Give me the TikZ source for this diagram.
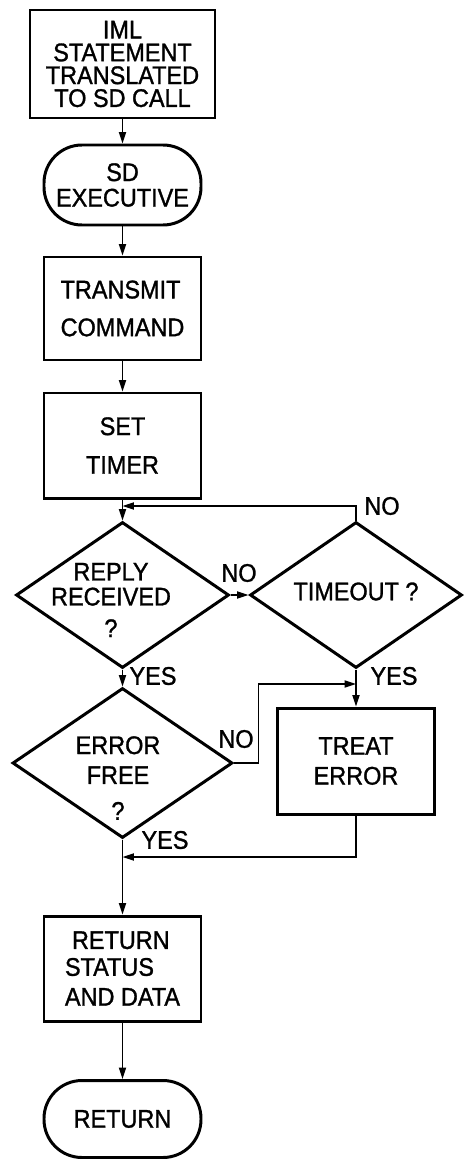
\documentclass[tikz,border=0pt]{standalone}
\usepackage{fontspec}
\setmainfont{Liberation Sans}[FakeStretch=0.92, FakeBold=1.2]
\usetikzlibrary{shapes.geometric,arrows.meta}

\begin{document}
\begin{tikzpicture}[
    every node/.style={font=\fontsize{14.5}{13}\selectfont},
    box/.style={draw, line width=1.7pt, minimum width=3.14cm, align=center},
    terminal/.style={draw, line width=1.7pt, rounded corners=0.76cm, minimum width=3.14cm, minimum height=1.54cm, align=center},
    decision/.style={draw, diamond, line width=1.7pt, inner sep=0pt},
    flow/.style={-{Triangle[length=6.5pt,width=4pt]}, line width=1pt},
    answer/.style={inner sep=0pt}
]
    \useasboundingbox (0,0) rectangle (9.26,-23.18);

    % Main column
    \node[box, minimum width=3.7cm, minimum height=2.16cm] (iml) at (2.45,-1.28) {IML\\STATEMENT\\TRANSLATED\\TO SD CALL};
    \node[terminal, minimum height=1.6cm] (sdexec) at (2.45,-3.7) {SD\\[1.5pt]EXECUTIVE};
    \node[box, minimum height=2.06cm, align=left] (transmit) at (2.45,-6.17) {TRANSMIT\\[8.5pt]COMMAND};
    \node[box, minimum height=2.1cm] (settimer) at (2.45,-8.91) {SET\\[9pt]TIMER};
    \node[decision, minimum width=4.26cm, minimum height=2.92cm] (reply) at (2.45,-11.9) {};
    \node[align=center] (replytext) at (2.22,-12.0) {REPLY\\[1.2pt]RECEIVED\\[5pt]?};
    \node[decision, minimum width=4.4cm, minimum height=3.0cm] (error) at (2.45,-15.26) {};
    \node[align=center] (errortext) at (2.36,-15.56) {ERROR\\[4pt]FREE\\[7.4pt]?};
    \node[box, minimum height=2.1cm, align=left] (retstatus) at (2.45,-19.37) {\hspace{4pt}RETURN\\[2.3pt]STATUS\\[4pt]AND DATA};
    \node[terminal] (return) at (2.45,-22.38) {RETURN};

    % Timeout branch
    \node[decision, minimum width=4.24cm, minimum height=2.92cm] (timeout) at (7.12,-11.9) {};
    \node (timeouttext) at (7.12,-11.83) {TIMEOUT ?};
    \node[box, minimum height=2.12cm] (treat) at (7.12,-15.22) {TREAT\\[4pt]ERROR};

    % Junctions on the lines
    \coordinate (loopin) at (2.45,-10.12);
    \coordinate (errjoin) at (7.12,-13.68);
    \coordinate (treatout) at (2.45,-17.14);

    % Connectors
    \draw[flow] (iml) -- (sdexec);
    \draw[flow] (sdexec) -- (transmit);
    \draw[flow] (transmit) -- (settimer);
    \draw[flow] (settimer) -- (reply);
    \draw[flow] (reply) -- (timeout);
    \draw[flow] (timeout.north) |- (loopin);
    \draw[flow] (reply) -- (error);
    \draw[flow] (error.east) -- ++(0.49,0) |- (errjoin);
    \draw[flow] (timeout) -- (treat);
    \draw[flow] (treat.south) |- (treatout);
    \draw[flow] (error) -- (retstatus);
    \draw[flow] (retstatus) -- (return);

    % Answers
    \node[answer] (noloop) at (7.64,-10.12) {NO};
    \node[answer] (noreply) at (4.78,-11.46) {NO};
    \node[answer] (yesreply) at (3.06,-13.52) {YES};
    \node[answer] (yestime) at (7.88,-13.52) {YES};
    \node[answer] (noerror) at (4.72,-14.78) {NO};
    \node[answer] (yeserror) at (3.3,-16.8) {YES};
\end{tikzpicture}
\end{document}
